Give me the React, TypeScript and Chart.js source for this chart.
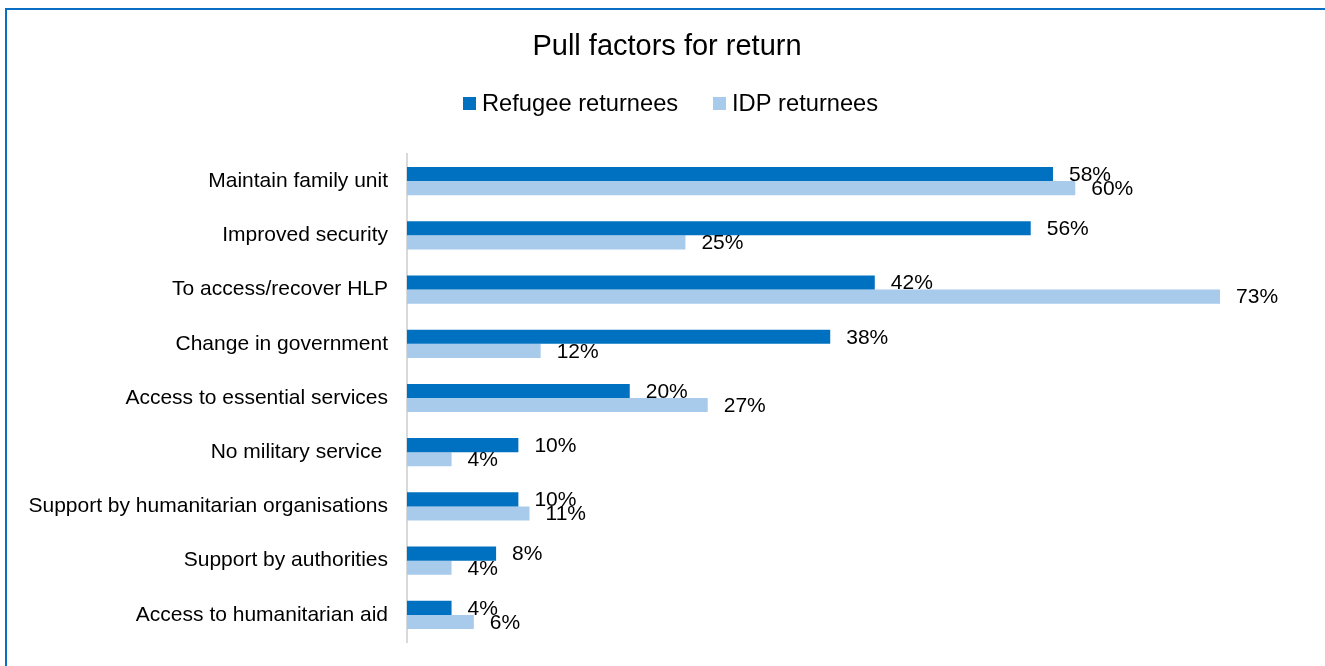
import React, { useEffect, useRef } from 'react';
import { Chart, registerables } from 'chart.js';

Chart.register(...registerables);

const chartTitle = 'Pull factors for return';
const seriesNames = ['Refugee returnees', 'IDP returnees'];
const categories = [
  'Maintain family unit',
  'Improved security',
  'To access/recover HLP',
  'Change in government',
  'Access to essential services',
  'No military service ',
  'Support by humanitarian organisations',
  'Support by authorities',
  'Access to humanitarian aid',
];
const refugeeValues = [58, 56, 42, 38, 20, 10, 10, 8, 4];
const idpValues = [60, 25, 73, 12, 27, 4, 11, 4, 6];
const axisMax = 80;

const FONT = '"Liberation Sans", Arial, sans-serif';
const DARK = '#0070C0';
const LIGHT = '#A8CAEB';

const labelsPlugin = {
  id: 'valueLabels',
  afterDatasetsDraw(chart: any) {
    const ctx = chart.ctx;
    ctx.save();
    ctx.font = `21px ${FONT}`;
    ctx.fillStyle = '#000';
    ctx.textAlign = 'left';
    ctx.textBaseline = 'middle';
    chart.data.datasets.forEach((ds: any, i: number) => {
      const meta = chart.getDatasetMeta(i);
      meta.data.forEach((el: any, j: number) => {
        ctx.fillText(`${ds.data[j]}%`, el.x + 16, el.y + 1);
      });
    });
    ctx.restore();
  },
};

const headerPlugin = {
  id: 'header',
  afterDraw(chart: any) {
    const ctx = chart.ctx;
    ctx.save();
    ctx.fillStyle = '#000';
    ctx.textBaseline = 'middle';
    ctx.textAlign = 'center';
    ctx.font = `29px ${FONT}`;
    ctx.fillText(chartTitle, 667, 47);
    ctx.textAlign = 'left';
    ctx.font = `23.7px ${FONT}`;
    const colors = [DARK, LIGHT];
    const boxX = [463, 713];
    seriesNames.forEach((name, i) => {
      ctx.fillStyle = colors[i];
      ctx.fillRect(boxX[i], 97, 13, 13);
      ctx.fillStyle = '#000';
      ctx.fillText(name, boxX[i] + 19, 104);
    });
    ctx.restore();
  },
};

export default function App() {
  const ref = useRef<HTMLCanvasElement>(null);
  useEffect(() => {
    if (!ref.current) return;
    const chart = new Chart(ref.current, {
      type: 'bar',
      data: {
        labels: categories,
        datasets: [
          {
            label: seriesNames[0],
            data: refugeeValues,
            backgroundColor: DARK,
            borderWidth: 0,
            barPercentage: 1,
            categoryPercentage: 0.52,
          },
          {
            label: seriesNames[1],
            data: idpValues,
            backgroundColor: LIGHT,
            borderWidth: 0,
            barPercentage: 1,
            categoryPercentage: 0.52,
          },
        ],
      },
      options: {
        indexAxis: 'y',
        responsive: false,
        animation: false,
        devicePixelRatio: 1,
        layout: { padding: { top: 154, bottom: 24, right: 27, left: 0 } },
        plugins: {
          legend: { display: false },
          title: { display: false },
          tooltip: { enabled: false },
        },
        scales: {
          x: { display: false, min: 0, max: axisMax },
          y: {
            grid: { display: false, drawTicks: false },
            border: { display: true, color: '#D9D9D9', width: 2 },
            ticks: {
              padding: 19,
              color: '#000',
              autoSkip: false,
              font: { family: FONT, size: 21 },
            },
            afterFit: (s: any) => {
              s.width = 407;
              s.paddingTop = 0;
              s.paddingBottom = 0;
            },
          },
        },
      },
      plugins: [labelsPlugin, headerPlugin],
    } as any);
    return () => chart.destroy();
  }, []);

  return (
    <div style={{ position: 'fixed', left: 0, top: 0, width: 1325, height: 666, background: '#fff', overflow: 'hidden' }}>
      <canvas ref={ref} width={1325} height={666} style={{ position: 'absolute', left: 0, top: 0, width: 1325, height: 666 }} />
      <div
        style={{
          position: 'absolute',
          left: 5,
          top: 8,
          width: 1400,
          height: 800,
          border: '2px solid #0A6FC4',
          boxSizing: 'border-box',
          pointerEvents: 'none',
        }}
      />
    </div>
  );
}
